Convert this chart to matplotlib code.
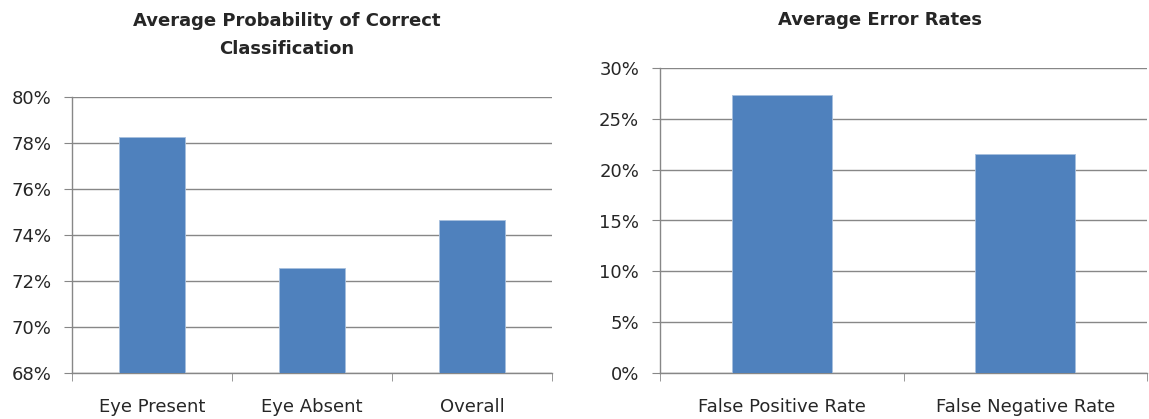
import numpy as np
import matplotlib.pyplot as plt
from matplotlib.ticker import PercentFormatter

# data
prob_labels = ['Eye Present', 'Eye Absent', 'Overall']
prob_values = [78.26, 72.57, 74.65]

err_labels = ['False Positive Rate', 'False Negative Rate']
err_values = [27.35, 21.57]

bar_color = '#4f81bd'
grid_color = '#878787'
text_color = '#262626'

plt.rcParams['font.family'] = ['DejaVu Sans']

fig = plt.figure(figsize=(11.49, 4.19), dpi=100)
W, H = 1149, 419

ax1 = fig.add_axes([72 / W, (H - 373) / H, 480 / W, 276 / H])
ax2 = fig.add_axes([660 / W, (H - 373) / H, 487 / W, 305 / H])


def style(ax, labels, values, ylim, step):
    x = np.arange(len(labels))
    ax.bar(x, [v - ylim[0] for v in values], bottom=ylim[0], width=0.41,
           color=bar_color, edgecolor='#a7bfde', linewidth=0.6, zorder=3)
    ax.set_xlim(-0.5, len(labels) - 0.5)
    ax.set_ylim(*ylim)
    ax.set_yticks(np.arange(ylim[0], ylim[1] + 0.01, step))
    ax.yaxis.set_major_formatter(PercentFormatter(decimals=0))
    ax.set_xticks(x)
    ax.set_xticklabels(labels)
    ax.set_xticks(np.arange(-0.5, len(labels)), minor=True)
    ax.tick_params(axis='x', which='major', length=0, pad=18, labelsize=13,
                   labelcolor=text_color)
    ax.tick_params(axis='x', which='minor', length=6, color=grid_color)
    ax.tick_params(axis='y', length=6, color=grid_color, labelsize=13, pad=9,
                   labelcolor=text_color)
    ax.grid(axis='y', color=grid_color, linewidth=1.0, zorder=0)
    for s in ['top', 'right']:
        ax.spines[s].set_visible(False)
    for s in ['left', 'bottom']:
        ax.spines[s].set_color(grid_color)
        ax.spines[s].set_linewidth(1.0)


style(ax1, prob_labels, prob_values, (68, 80), 2)
style(ax2, err_labels, err_values, (0, 30), 5)

fig.text(287 / W, 1 - 35 / H, 'Average Probability of Correct\nClassification',
         ha='center', va='center', fontsize=13, fontweight='bold',
         linespacing=1.75, color=text_color)
fig.text(880 / W, 1 - 20 / H, 'Average Error Rates',
         ha='center', va='center', fontsize=13, fontweight='bold',
         color=text_color)

fig.savefig('out.png', dpi=100)
